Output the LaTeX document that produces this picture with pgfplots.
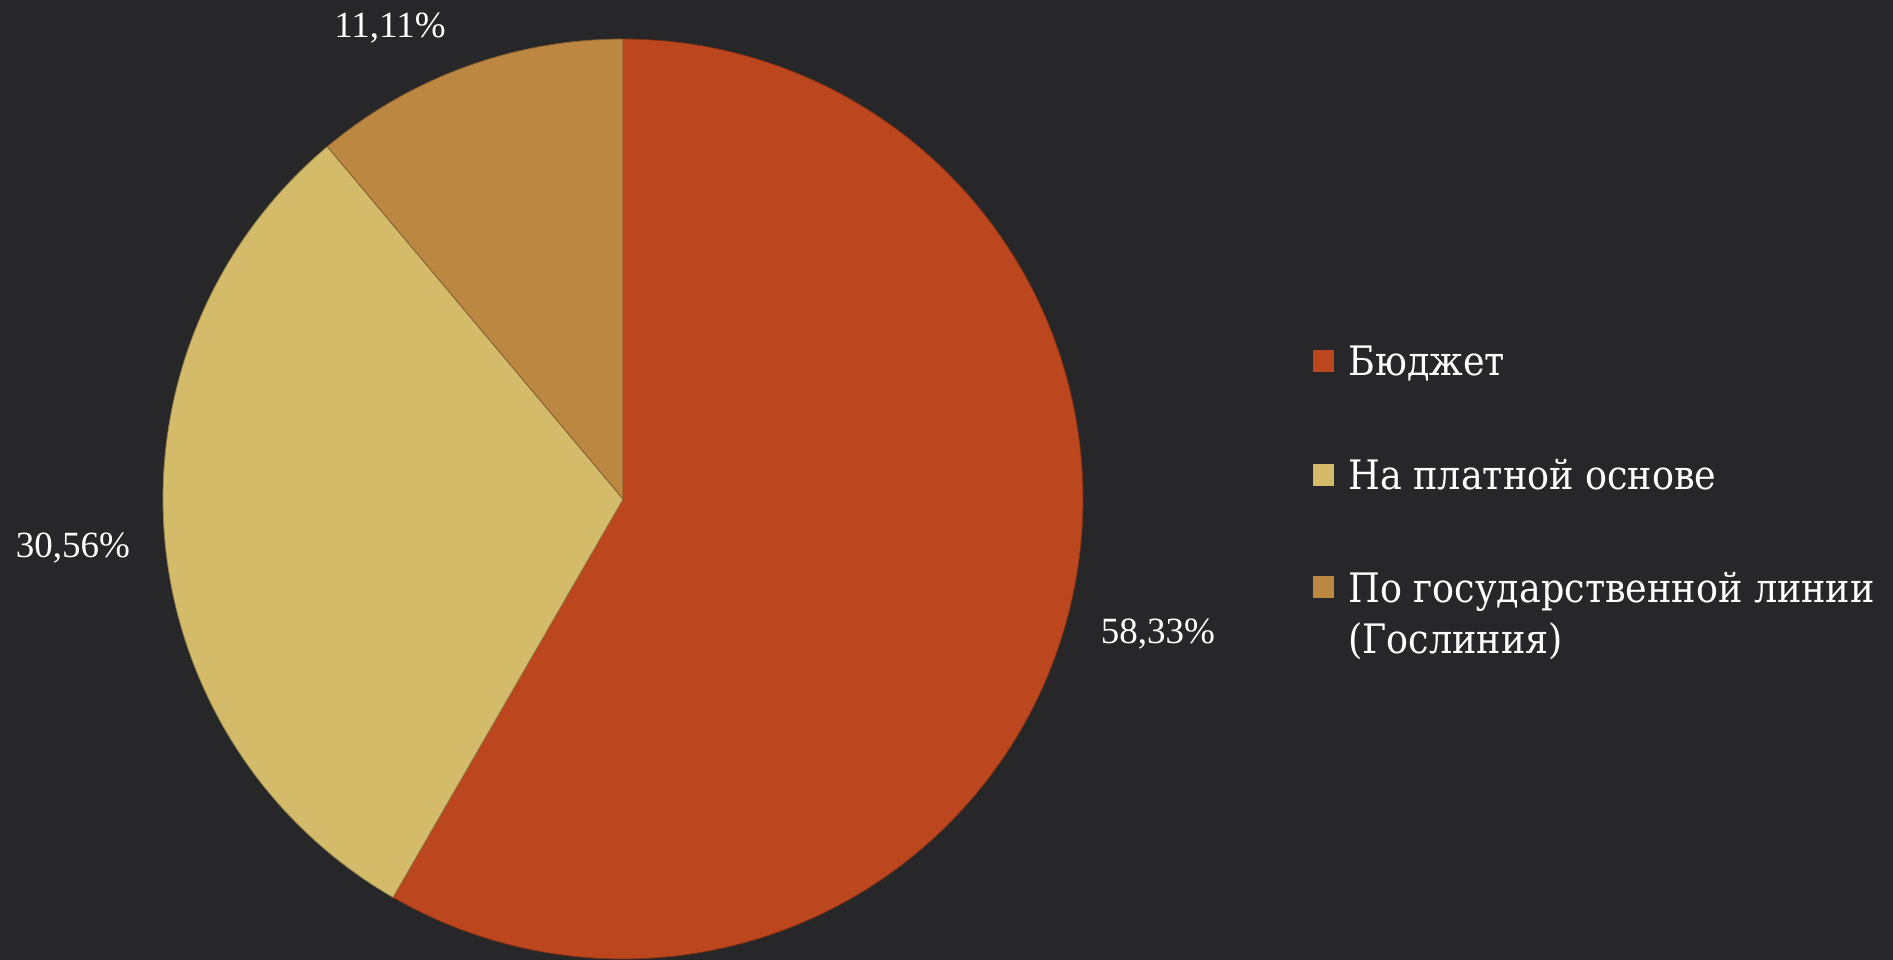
\documentclass[border=0pt]{standalone}
\usepackage{pgfplots}
\usepackage{pgfplotstable}
\pgfplotsset{compat=1.18}
\usepackage{fontspec}
\setmainfont{Liberation Serif}
\newfontfamily\legfont{DejaVu Serif Condensed}
\definecolor{bg}{HTML}{27272A}
\definecolor{cA}{HTML}{BC461D}
\definecolor{cB}{HTML}{D3BB6A}
\definecolor{cC}{HTML}{BC8741}
\pgfplotstableread{
label value
Budget 58.33
Paid 30.56
State 11.11
}\piedata
\begin{document}
\begin{tikzpicture}
\pgfplotstablegetelem{0}{value}\of\piedata \let\va\pgfplotsretval
\pgfplotstablegetelem{1}{value}\of\piedata \let\vb\pgfplotsretval
\pgfplotstablegetelem{2}{value}\of\piedata \let\vc\pgfplotsretval
\pgfmathsetmacro\aA{90-3.6*\va}
\pgfmathsetmacro\aB{\aA-3.6*\vb}
\pgfmathsetmacro\aC{\aB-3.6*\vc}
\fill[bg] (0,0) rectangle (946.5bp,480bp);
\begin{axis}[
  at={(0,0)}, anchor=south west,
  scale only axis, width=946.5bp, height=480bp,
  xmin=-623, xmax=1270, ymin=-461, ymax=499,
  hide axis, clip=false,
]
\addplot[fill=cA, draw=cA!70!black, line width=0.4bp, data cs=polar, domain=\aA:90, samples=150] (x,460) -- (axis cs:0,0) -- cycle;
\addplot[fill=cB, draw=cB!70!black, line width=0.4bp, data cs=polar, domain=\aB:\aA, samples=100] (x,460) -- (axis cs:0,0) -- cycle;
\addplot[fill=cC, draw=cC!70!black, line width=0.4bp, data cs=polar, domain=\aC:\aB, samples=60] (x,460) -- (axis cs:0,0) -- cycle;
% data labels
\node[anchor=base, inner sep=0, text=white, font=\fontsize{18.5bp}{22bp}\selectfont] at (axis cs:-233,462) {11,11\%};
\node[anchor=base, inner sep=0, text=white, font=\fontsize{18.5bp}{22bp}\selectfont] at (axis cs:-550,-58) {30,56\%};
\node[anchor=base, inner sep=0, text=white, font=\fontsize{18.5bp}{22bp}\selectfont] at (axis cs:535,-144) {58,33\%};
% legend
\fill[cA] (axis cs:690,149) rectangle (axis cs:711,127);
\fill[cB] (axis cs:690,35) rectangle (axis cs:711,13);
\fill[cC] (axis cs:690,-77) rectangle (axis cs:711,-99);
\node[anchor=base west, inner sep=0, text=white, font=\legfont\fontsize{20.3bp}{25bp}\selectfont] at (axis cs:725,124) {Бюджет};
\node[anchor=base west, inner sep=0, text=white, font=\legfont\fontsize{20.3bp}{25bp}\selectfont] at (axis cs:725,10) {На платной основе};
\node[anchor=base west, inner sep=0, text=white, font=\legfont\fontsize{20.3bp}{25bp}\selectfont] at (axis cs:725,-103) {По государственной линии};
\node[anchor=base west, inner sep=0, text=white, font=\legfont\fontsize{20.3bp}{25bp}\selectfont] at (axis cs:725,-154) {(Гослиния)};
\end{axis}
\pgfresetboundingbox
\useasboundingbox (0,0) rectangle (946.5bp,480bp);
\end{tikzpicture}
\end{document}
